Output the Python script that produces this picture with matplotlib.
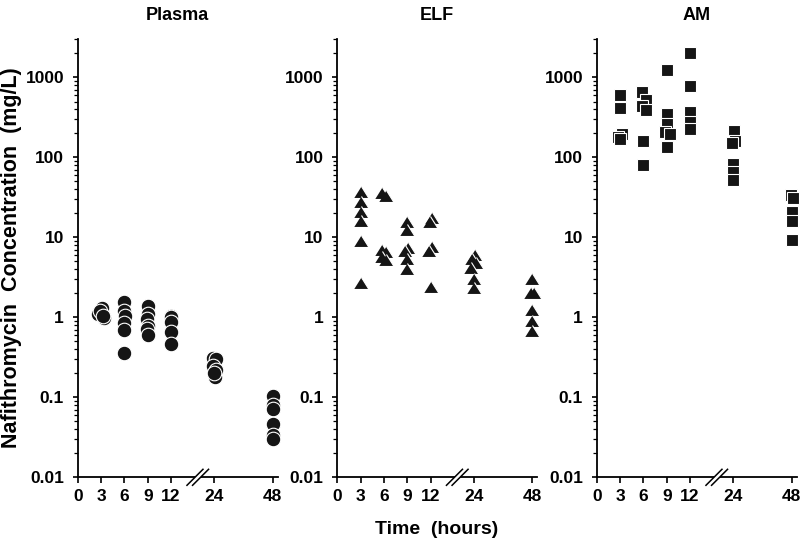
import numpy as np
import matplotlib
matplotlib.use("Agg")
import matplotlib.pyplot as plt
from matplotlib.ticker import LogLocator, NullFormatter
from matplotlib.patches import Polygon

plt.rcParams['font.family'] = ['Liberation Sans', 'DejaVu Sans']
plt.rcParams['font.weight'] = 'bold'

# sampling time (h, incl. the small horizontal offsets in the figure) and concentration (mg/L)
plasma_t = [2.6, 3.1, 3.4, 2.9, 3.3,
            6.0, 5.9, 6.1, 6.0, 6.0, 6.0,
            9.0, 9.0, 8.9, 9.1, 8.9, 9.0,
            12.1, 12.0, 12.0, 12.0, 12.0,
            23.6, 24.5, 23.6, 24.6, 24.4, 23.8,
            48, 48, 48, 48, 48, 48]
plasma_c = [1.1, 1.3, 0.97, 1.2, 1.05,
            1.55, 1.2, 1.05, 0.85, 0.7, 0.36,
            1.4, 1.1, 0.95, 0.78, 0.72, 0.6,
            1.05, 1.0, 0.88, 0.66, 0.47,
            0.31, 0.30, 0.245, 0.22, 0.18, 0.2,
            0.105, 0.08, 0.072, 0.047, 0.034, 0.03]

elf_t = [3, 3, 3, 3, 3, 3,
         5.8, 6.3, 5.8, 6.3, 5.7, 6.3,
         9.0, 9.0, 9.1, 8.7, 9.0, 9.0,
         12.4, 11.9, 12.4, 11.8, 12.0,
         24.5, 23.5, 24.7, 23.3, 24.0, 24.0,
         48, 47.3, 48.7, 48, 48, 48]
elf_c = [37, 28, 21, 16, 9, 2.7,
         36, 33, 7.0, 6.5, 5.7, 5.2,
         15.5, 12.3, 7.3, 6.7, 5.3, 4.0,
         17.5, 15.5, 7.5, 6.8, 2.4,
         6.0, 5.3, 4.8, 4.2, 3.0, 2.3,
         3.0, 2.0, 2.0, 1.25, 0.9, 0.68]

am_t = [3.0, 3.0, 3.2, 2.8, 3.0,
        5.8, 6.3, 5.8, 6.3, 6.0, 6.0,
        9.0, 9.0, 9.0, 8.8, 9.4, 9.0,
        12, 12, 12, 12, 12,
        24.2, 24.8, 23.6, 24.0, 24.0, 24.0,
        47.6, 48.5, 48, 48, 48]
am_c = [600, 410, 195, 180, 170,
        650, 520, 440, 390, 160, 80,
        1230, 350, 265, 205, 195, 135,
        2000, 790, 375, 275, 225,
        215, 162, 152, 82, 66, 52,
        34, 31, 21, 16, 9.2]

titles = ['Plasma', 'ELF', 'AM']
time_ticks = [0, 3, 6, 9, 12, 24, 48]
conc_ticks = [0.01, 0.1, 1, 10, 100, 1000]
conc_labels = ['0.01', '0.1', '1', '10', '100', '1000']

# broken time axis: 0-12 h spread out, then 24 and 48 h compressed
knots_h = [0, 12, 24, 72]
knots_u = [0, 4, 5.857, 10.857]


def fwd(t):
    return np.interp(t, knots_h, knots_u)


def inv(u):
    return np.interp(u, knots_u, knots_h)


tri = [(-1, -0.8), (1, -0.8), (0, 0.8)]
series = [(plasma_t, plasma_c, 'o', 10.5),
          (elf_t, elf_c, tri, 10.8),
          (am_t, am_c, 's', 8.4)]

W, H = 800, 550
fig = plt.figure(figsize=(8, 5.5), dpi=100)
lefts = [77.7, 337.2, 596.7]
ax_w, ax_bot, ax_top = 200, 477.3, 39.3

for i, (t, c, mk, ms) in enumerate(series):
    ax = fig.add_axes([lefts[i] / W, (H - ax_bot) / H, ax_w / W, (ax_bot - ax_top) / H])
    ax.set_xscale('function', functions=(fwd, inv))
    ax.set_yscale('log')
    ax.plot(t, c, linestyle='none', marker=mk, markersize=ms, color='#151515',
            markeredgecolor='white', markeredgewidth=0.8, clip_on=False, zorder=3)
    ax.set_xlim(0, 50.05)
    ax.set_ylim(0.01, 3000)
    ax.set_xticks(time_ticks)
    ax.set_xticklabels([str(v) for v in time_ticks], fontsize=12.5, fontweight='bold')
    ax.set_yticks(conc_ticks)
    ax.set_yticklabels(conc_labels, fontsize=12.5, fontweight='bold')
    ax.yaxis.set_minor_locator(LogLocator(base=10, subs=np.arange(2, 10)))
    ax.yaxis.set_minor_formatter(NullFormatter())
    for s in ['top', 'right']:
        ax.spines[s].set_visible(False)
    for s in ['left', 'bottom']:
        ax.spines[s].set_linewidth(1.3)
    ax.tick_params(axis='y', which='major', direction='out', length=3.8, width=1.2, pad=6)
    ax.tick_params(axis='y', which='minor', direction='out', length=2.6, width=0.9)
    ax.tick_params(axis='x', which='major', direction='out', length=4.3, width=1.2, pad=4)
    ax.set_title(titles[i], fontsize=13, fontweight='bold', pad=14)

    # axis break marks between 12 h and 24 h
    xb = ax.transAxes.inverted().transform(ax.transData.transform((19.4, 0.01)))[0]
    ah = ax_bot - ax_top
    d = 8.0
    offs = [-2.8, 2.8]
    gap = Polygon([(xb + (offs[0] - d) / ax_w, -d / ah), (xb + (offs[1] - d) / ax_w, -d / ah),
                   (xb + (offs[1] + d) / ax_w, d / ah), (xb + (offs[0] + d) / ax_w, d / ah)],
                  closed=True, transform=ax.transAxes, facecolor='white', edgecolor='none',
                  clip_on=False, zorder=4)
    ax.add_patch(gap)
    for o in offs:
        ax.plot([xb + (o - d) / ax_w, xb + (o + d) / ax_w], [-d / ah, d / ah],
                transform=ax.transAxes, color='black', linewidth=1.1,
                clip_on=False, zorder=5)

fig.text(12 / W, 1 - 258 / H, 'Nafithromycin  Concentration  (mg/L)', rotation=90,
         ha='center', va='center', fontsize=15.5, fontweight='bold')
fig.text(437 / W, 1 - 529 / H, 'Time  (hours)', ha='center', va='center',
         fontsize=14, fontweight='bold')

fig.savefig('out.png', dpi=100)
